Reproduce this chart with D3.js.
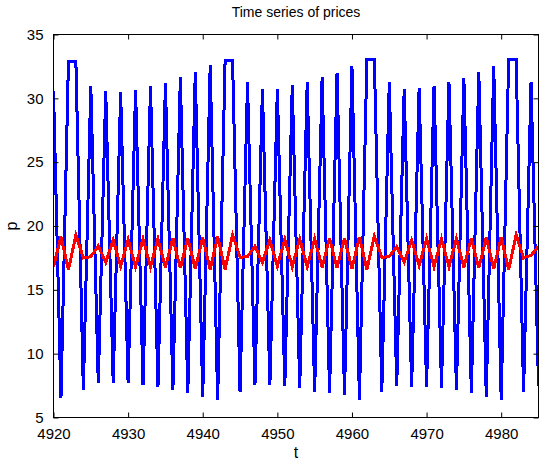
<!DOCTYPE html>
<html>
<head>
<meta charset="utf-8">
<script src="https://cdn.jsdelivr.net/npm/d3@7"></script>
<style>
  html, body { margin: 0; padding: 0; background: #ffffff; }
  svg { display: block; }
  text { font-family: "Liberation Sans", Arial, Helvetica, sans-serif; fill: #000; }
</style>
</head>
<body>
<svg id="chart" width="540" height="463"></svg>
<script>
// ---- data ----
const tStart = 4920;
const priceBlue = [
  30.6, 6.5, 32.85, 32.85, 7.14, 31.0, 7.67, 30.55, 7.74, 30.5,
  7.67, 30.68, 7.53, 30.95, 7.4, 31.2, 7.14, 31.65, 6.93, 32.04,
  6.62, 32.57, 6.36, 33.0, 33.0, 7.0, 31.26, 7.53, 30.74, 7.53,
  30.74, 7.46, 31.08, 7.35, 31.26, 7.0, 31.65, 6.93, 31.99, 6.75,
  32.5, 6.41, 33.04, 33.04, 7.0, 31.26, 7.46, 30.74, 7.4, 30.8,
  7.4, 31.0, 7.35, 31.3, 7.14, 31.6, 6.93, 32.04, 6.62, 32.5,
  6.36, 33.05, 33.05, 7.0, 31.26, 7.46
];
const priceRed = [
  16.8, 19.17, 16.56, 19.3, 17.5, 17.6, 18.45, 17.15, 18.9, 16.85,
  18.95, 16.8, 19.0, 16.8, 19.0, 16.75, 19.05, 16.7, 19.05, 16.65,
  19.1, 16.6, 19.17, 16.6, 19.3, 17.55, 17.6, 18.4, 17.15, 18.9,
  16.85, 18.95, 16.8, 19.0, 16.8, 19.0, 16.75, 19.05, 16.7, 19.05,
  16.65, 19.15, 16.6, 19.2, 17.55, 17.6, 18.4, 17.15, 18.9, 16.9,
  19.0, 16.8, 19.0, 16.8, 19.0, 16.75, 19.05, 16.7, 19.1, 16.65,
  19.15, 16.56, 19.3, 17.5, 17.7, 18.4
];
const xTicks = [4920, 4930, 4940, 4950, 4960, 4970, 4980];
const yTicks = [5, 10, 15, 20, 25, 30, 35];
const xDomain = [4920, 4985];
const yDomain = [5, 35];
const titleText = "Time series of prices";
const xLabel = "t";
const yLabel = "p";

// ---- layout ----
const mL = 53.5, mR = 538.5, mT = 34.5, mB = 417.5;
const svg = d3.select("#chart");

const x = d3.scaleLinear().domain(xDomain).range([mL, mR]);
const y = d3.scaleLinear().domain(yDomain).range([mB, mT]);

const blueData = priceBlue.map((v, i) => ({ t: tStart + i, v }));
const redData = priceRed.map((v, i) => ({ t: tStart + i, v }));

svg.append("defs").append("clipPath").attr("id", "plotclip")
  .append("rect").attr("x", mL).attr("y", mT)
  .attr("width", mR - mL).attr("height", mB - mT);

const line = d3.line().x(d => x(d.t)).y(d => y(d.v));

const plot = svg.append("g").attr("clip-path", "url(#plotclip)");
plot.append("path").datum(blueData)
  .attr("d", line).attr("fill", "none")
  .attr("stroke", "#0000ff").attr("stroke-width", 3)
  .attr("stroke-linejoin", "miter")
  .attr("shape-rendering", "crispEdges");
plot.append("path").datum(redData)
  .attr("d", line).attr("fill", "none")
  .attr("stroke", "#ff0000").attr("stroke-width", 3)
  .attr("shape-rendering", "crispEdges");

// ---- axes (MATLAB style: inward ticks, box) ----
const tickLen = 5;
const fontSize = 15;
const axBottom = d3.axisBottom(x).tickValues(xTicks).tickSize(-tickLen).tickPadding(tickLen + 6).tickFormat(d3.format("d"));
const axTop = d3.axisTop(x).tickValues(xTicks).tickSize(-tickLen).tickFormat("");
const axLeft = d3.axisLeft(y).tickValues(yTicks).tickSize(-tickLen).tickPadding(tickLen + 5).tickFormat(d3.format("d"));
const axRight = d3.axisRight(y).tickValues(yTicks).tickSize(-tickLen).tickFormat("");

function style(g) {
  g.select(".domain").remove();
  g.selectAll(".tick line").attr("stroke", "#000").attr("stroke-width", 1);
  g.selectAll(".tick text").attr("font-size", fontSize)
    .attr("font-family", "'Liberation Sans', Arial, Helvetica, sans-serif")
    .attr("fill", "#000");
}
svg.append("g").attr("transform", `translate(0,${mB})`).call(axBottom).call(style);
svg.append("g").attr("transform", `translate(0,${mT})`).call(axTop).call(style);
svg.append("g").attr("transform", `translate(${mL},0)`).call(axLeft).call(style);
svg.append("g").attr("transform", `translate(${mR},0)`).call(axRight).call(style);

svg.append("rect").attr("x", mL).attr("y", mT)
  .attr("width", mR - mL).attr("height", mB - mT)
  .attr("fill", "none").attr("stroke", "#000").attr("stroke-width", 1);

// ---- labels ----
svg.append("text").attr("x", (mL + mR) / 2).attr("y", 17)
  .attr("text-anchor", "middle").attr("font-size", 14).text(titleText);
svg.append("text").attr("x", (mL + mR) / 2).attr("y", 458)
  .attr("text-anchor", "middle").attr("font-size", 16).text(xLabel);
svg.append("text").attr("transform", `translate(17,${(mT + mB) / 2}) rotate(-90)`)
  .attr("text-anchor", "middle").attr("font-size", 16).text(yLabel);
</script>
</body>
</html>
